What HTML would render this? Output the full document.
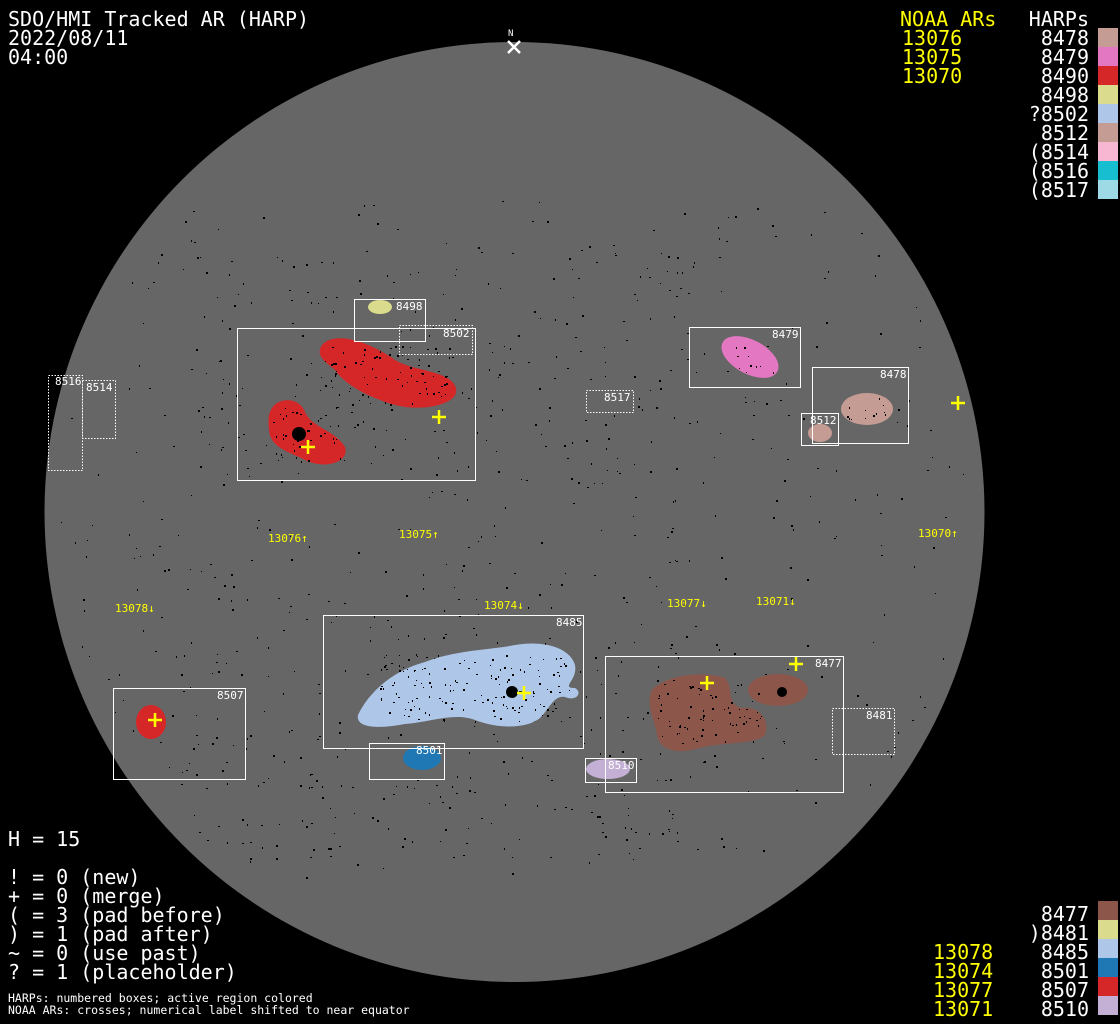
<!DOCTYPE html>
<html><head><meta charset="utf-8"><style>
html,body{margin:0;padding:0;background:#000;width:1120px;height:1024px;overflow:hidden}
svg{display:block}
.m{font-family:"DejaVu Sans Mono","Liberation Mono",monospace}
</style></head><body>
<svg id="s" width="1120" height="1024" xmlns="http://www.w3.org/2000/svg" class="m">
<rect width="1120" height="1024" fill="#000"/>
<circle cx="514.5" cy="512" r="470" fill="#666"/>
<g id="specks" fill="#000"></g>
<ellipse cx="380" cy="307" rx="12" ry="7" fill="#dbdb8d"/>
<path d="M322,345 C335,330 370,342 395,360 C415,372 450,370 456,388 C460,405 420,412 395,405 C370,398 345,385 335,370 C325,362 315,355 322,345Z" fill="#d62728"/>
<path d="M272,408 C280,396 300,398 305,412 C312,428 335,430 345,447 C350,462 325,470 305,460 C290,452 270,448 269,430 C268,420 268,414 272,408Z" fill="#d62728"/>
<circle cx="299" cy="434" r="7" fill="#000"/>
<ellipse cx="750" cy="357" rx="31" ry="17" transform="rotate(28 750 357)" fill="#e377c2"/>
<ellipse cx="867" cy="409" rx="26" ry="16" fill="#c49c94"/>
<ellipse cx="820" cy="433" rx="12" ry="9" fill="#c49c94"/>
<path d="M358,715 C370,690 395,670 425,662 C455,650 490,650 515,645 C545,640 570,648 575,665 C578,680 560,688 575,688 C582,692 578,700 568,698 C555,692 550,708 540,718 C525,730 495,728 475,720 C455,712 430,722 405,724 C385,728 355,730 358,715Z" fill="#aec7e8"/>
<circle cx="512" cy="692" r="6" fill="#000"/>
<ellipse cx="151" cy="722" rx="15" ry="17" fill="#d62728"/>
<ellipse cx="422" cy="758" rx="19" ry="12" fill="#1f77b4"/>
<ellipse cx="608" cy="769" rx="22" ry="10" fill="#c5b0d5"/>
<path d="M652,690 C665,676 700,670 725,678 C735,690 725,700 740,708 C760,705 770,720 765,735 C755,745 720,742 700,748 C680,754 660,752 657,735 C655,720 645,705 652,690Z" fill="#8c564b"/>
<ellipse cx="778" cy="690" rx="30" ry="16" fill="#8c564b"/>
<circle cx="782" cy="692" r="5" fill="#000"/>
<g id="inner" fill="#000"></g>
<g fill="none" stroke="#fff" stroke-width="1">
<rect x="354.5" y="299.5" width="71" height="42"/>
<rect x="237.5" y="328.5" width="238" height="152"/>
<rect x="689.5" y="327.5" width="111" height="60"/>
<rect x="812.5" y="367.5" width="96" height="76"/>
<rect x="801.5" y="413.5" width="37" height="32"/>
<rect x="323.5" y="615.5" width="260" height="133"/>
<rect x="113.5" y="688.5" width="132" height="91"/>
<rect x="369.5" y="743.5" width="75" height="36"/>
<rect x="585.5" y="758.5" width="51" height="24"/>
<rect x="605.5" y="656.5" width="238" height="136"/>
</g>
<g fill="none" stroke="#fff" stroke-width="1" stroke-dasharray="1.5,1.5">
<rect x="399.5" y="325.5" width="73" height="29"/>
<rect x="48.5" y="375.5" width="34" height="95"/>
<rect x="82.5" y="380.5" width="33" height="58"/>
<rect x="586.5" y="390.5" width="47" height="22"/>
<rect x="832.5" y="708.5" width="62" height="46"/>
</g>
<g fill="#fff" font-size="11">
<text x="396" y="310">8498</text><text x="443" y="337">8502</text>
<text x="772" y="338">8479</text><text x="880" y="378">8478</text><text x="810" y="424">8512</text>
<text x="55" y="385">8516</text><text x="86" y="391">8514</text><text x="604" y="401">8517</text>
<text x="556" y="626">8485</text><text x="217" y="699">8507</text><text x="416" y="754">8501</text>
<text x="608" y="769">8510</text><text x="815" y="667">8477</text><text x="866" y="719">8481</text>
<text x="508" y="36" font-size="9">N</text>
</g>
<g stroke="#fff" stroke-width="2.5"><line x1="508" y1="41" x2="520" y2="53"/><line x1="520" y1="41" x2="508" y2="53"/></g>
<g stroke="#ff0" stroke-width="2.5" id="crosses"></g>
<g fill="#ff0" font-size="11">
<text x="268" y="542">13076↑</text><text x="399" y="538">13075↑</text><text x="918" y="537">13070↑</text>
<text x="115" y="612">13078↓</text><text x="484" y="609">13074↓</text><text x="667" y="607">13077↓</text><text x="756" y="605">13071↓</text>
</g>
<g fill="#fff" font-size="20">
<text x="8" y="26">SDO/HMI Tracked AR (HARP)</text>
<text x="8" y="45">2022/08/11</text>
<text x="8" y="64">04:00</text>
<text x="8" y="846">H = 15</text>
<text x="8" y="884">! = 0 (new)</text>
<text x="8" y="903">+ = 0 (merge)</text>
<text x="8" y="922">( = 3 (pad before)</text>
<text x="8" y="941">) = 1 (pad after)</text>
<text x="8" y="960">~ = 0 (use past)</text>
<text x="8" y="979">? = 1 (placeholder)</text>
</g>
<g fill="#fff" font-size="11.5">
<text x="8" y="1002">HARPs: numbered boxes; active region colored</text>
<text x="8" y="1014">NOAA ARs: crosses; numerical label shifted to near equator</text>
</g>
<g font-size="20" fill="#ff0"><text x="900" y="26">NOAA ARs</text><text x="902" y="45">13076</text><text x="902" y="64">13075</text><text x="902" y="83">13070</text>
<text x="933" y="959" >13078</text><text x="933" y="978">13074</text><text x="933" y="997">13077</text><text x="933" y="1016">13071</text></g>
<g font-size="20" fill="#fff" text-anchor="end">
<text x="1089" y="26">HARPs</text>
<text x="1089" y="45">8478</text><text x="1089" y="64">8479</text><text x="1089" y="83">8490</text><text x="1089" y="102">8498</text><text x="1089" y="121">?8502</text><text x="1089" y="140">8512</text><text x="1089" y="159">(8514</text><text x="1089" y="178">(8516</text><text x="1089" y="197">(8517</text>
<text x="1089" y="921">8477</text><text x="1089" y="940">)8481</text><text x="1089" y="959">8485</text><text x="1089" y="978">8501</text><text x="1089" y="997">8507</text><text x="1089" y="1016">8510</text>
</g>
<rect x="1098" y="28" width="20" height="19" fill="#c49c94"/>
<rect x="1098" y="47" width="20" height="19" fill="#e377c2"/>
<rect x="1098" y="66" width="20" height="19" fill="#d62728"/>
<rect x="1098" y="85" width="20" height="19" fill="#dbdb8d"/>
<rect x="1098" y="104" width="20" height="19" fill="#aec7e8"/>
<rect x="1098" y="123" width="20" height="19" fill="#c49c94"/>
<rect x="1098" y="142" width="20" height="19" fill="#f7b6d2"/>
<rect x="1098" y="161" width="20" height="19" fill="#17becf"/>
<rect x="1098" y="180" width="20" height="19" fill="#9edae5"/>
<rect x="1098" y="901" width="20" height="19" fill="#8c564b"/>
<rect x="1098" y="920" width="20" height="19" fill="#dbdb8d"/>
<rect x="1098" y="939" width="20" height="19" fill="#aec7e8"/>
<rect x="1098" y="958" width="20" height="19" fill="#1f77b4"/>
<rect x="1098" y="977" width="20" height="19" fill="#d62728"/>
<rect x="1098" y="996" width="20" height="19" fill="#c5b0d5"/>
</svg>
<script>
(function(){
var ns="http://www.w3.org/2000/svg";
var c=document.getElementById("crosses");
[[439,417],[308,447],[958,403],[524,693],[796,664],[707,683],[155,720]].forEach(function(p){
 var a=document.createElementNS(ns,"line");a.setAttribute("x1",p[0]-7);a.setAttribute("x2",p[0]+7);a.setAttribute("y1",p[1]);a.setAttribute("y2",p[1]);c.appendChild(a);
 var b=document.createElementNS(ns,"line");b.setAttribute("x1",p[0]);b.setAttribute("x2",p[0]);b.setAttribute("y1",p[1]-7);b.setAttribute("y2",p[1]+7);c.appendChild(b);
});
var s=12345;function r(){s=(s*1103515245+12345)%2147483648;return s/2147483648;}
function add(g,R,n){for(var i=0;i<n;i++){var x=R[0]+r()*(R[2]-R[0]),y=R[1]+r()*(R[3]-R[1]);
 var dx=x-514.5,dy=y-512;if(dx*dx+dy*dy>455*455)continue;
 var e=document.createElementNS(ns,"rect");e.setAttribute("x",x|0);e.setAttribute("y",y|0);e.setAttribute("width",1+(r()*2|0));e.setAttribute("height",1+(r()*2|0));g.appendChild(e);}}
var g=document.getElementById("specks");
add(g,[60,200,970,880],500);
add(g,[160,240,700,480],150);
add(g,[180,560,700,860],200);
var h=document.getElementById("inner");
add(h,[325,345,450,405],80);add(h,[272,405,342,462],40);add(h,[380,655,570,722],150);add(h,[655,680,765,745],70);add(h,[725,345,775,375],12);add(h,[845,398,890,420],12);
})();
</script>
</body></html>
